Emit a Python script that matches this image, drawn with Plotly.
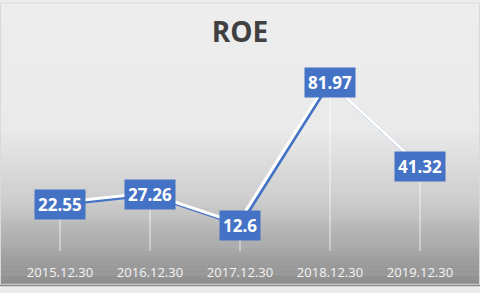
import plotly.graph_objects as go

categories = ["2015.12.30", "2016.12.30", "2017.12.30", "2018.12.30", "2019.12.30"]
roe = [22.55, 27.26, 12.6, 81.97, 41.32]
labels = ["22.55", "27.26", "12.6", "81.97", "41.32"]
title_text = "ROE"

W, H = 480, 293
ML, MR, MT, MB = 15, 15, 66, 35
PW, PH = W - ML - MR, H - MT - MB
BLUE = "#4472C4"
YMAX = 90

fig = go.Figure()

# drop lines from each point to the axis
fig.add_trace(go.Scatter(
    x=categories, y=roe, mode="markers",
    marker=dict(color="rgba(0,0,0,0)", size=1),
    error_y=dict(type="data", symmetric=False, array=[0] * len(roe), arrayminus=roe,
                 color="rgba(255,255,255,0.75)", thickness=1, width=0),
    hoverinfo="skip", showlegend=False,
))

# blue line (main axes)
fig.add_trace(go.Scatter(
    x=categories, y=roe, mode="lines",
    line=dict(color=BLUE, width=3), hoverinfo="skip", showlegend=False,
))
# white highlight line on offset axes (drawn above)
fig.add_trace(go.Scatter(
    x=categories, y=roe, mode="lines", xaxis="x2", yaxis="y2",
    line=dict(color="white", width=3), showlegend=False,
))

for c, v, t in zip(categories, roe, labels):
    fig.add_annotation(x=c, y=v, text=t, showarrow=False,
                       font=dict(family="Open Sans", size=17, color="white", weight="bold"),
                       bgcolor=BLUE, borderpad=3, xanchor="center", yanchor="middle")

# gradient background bands
shapes = []
stops = [(0.0, 237), (0.45, 234), (0.7, 205), (1.0, 140)]
def shade(f):
    for (a, ca), (b, cb) in zip(stops[:-1], stops[1:]):
        if a <= f <= b:
            return ca + (cb - ca) * (f - a) / (b - a)
    return stops[-1][1]
step = 2
for py in range(0, H, step):
    f = (py + step / 2) / H
    g = int(round(shade(f)))
    y1 = 1 + (MT - py) / PH
    y0 = 1 + (MT - py - step - 0.5) / PH
    shapes.append(dict(type="rect", xref="paper", yref="paper", layer="below",
                       x0=-ML / PW - 0.01, x1=1 + MR / PW + 0.01, y0=y0, y1=y1,
                       line=dict(width=0), fillcolor=f"rgb({g},{g},{g})"))
shapes.append(dict(type="rect", xref="paper", yref="paper", layer="above",
                   x0=-(ML - 0.5) / PW, x1=1 + (MR - 0.5) / PW,
                   y0=-(MB - 0.5) / PH, y1=1 + (MT - 0.5) / PH,
                   line=dict(color="#d9d9d9", width=1), fillcolor="rgba(0,0,0,0)"))

# white highlight offset: 2 px left, 2 px up
dcat = 2 / (PW / len(categories))
dval = 2 / (PH / YMAX)
fig.update_layout(
    width=W, height=H,
    margin=dict(l=ML, r=MR, t=MT, b=MB),
    paper_bgcolor="#ececec", plot_bgcolor="rgba(0,0,0,0)",
    title=dict(text=title_text, x=0.5, xanchor="center", y=1 - 32 / H, yanchor="middle",
               font=dict(family="Open Sans", size=28, color="#404040", weight="bold")),
    xaxis=dict(type="category", range=[-0.5, 4.5], showgrid=False, zeroline=False,
               showline=False, ticks="", tickfont=dict(family="Open Sans", size=13, color="#f4f4f4"),
               ticklabelstandoff=12, fixedrange=True),
    yaxis=dict(range=[0, YMAX], visible=False, showgrid=False, zeroline=False, fixedrange=True),
    xaxis2=dict(type="category", range=[-0.5 + dcat, 4.5 + dcat], visible=False,
                overlaying="x", anchor="y2", fixedrange=True),
    yaxis2=dict(range=[-dval, YMAX - dval], visible=False, overlaying="y", anchor="x2",
                fixedrange=True),
    shapes=shapes,
)

fig.write_html("out.html")
